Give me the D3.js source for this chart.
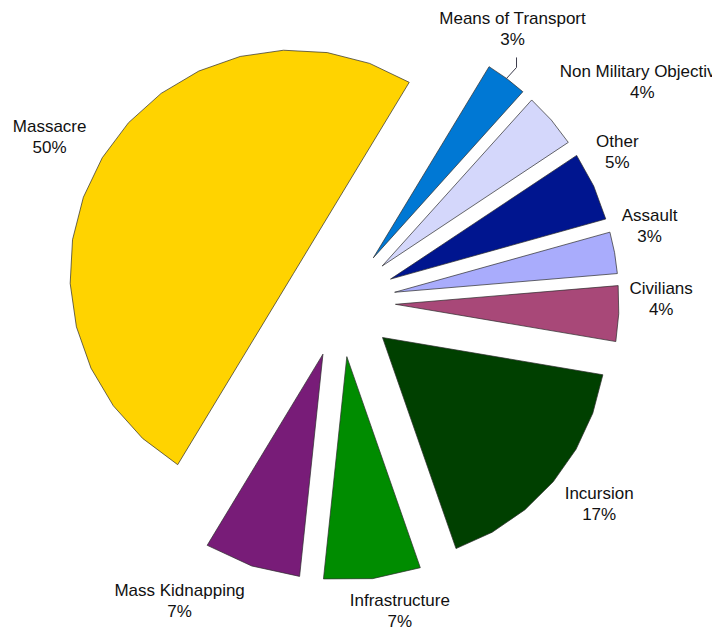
<!DOCTYPE html>
<html>
<head>
<meta charset="utf-8">
<script src="https://cdn.jsdelivr.net/npm/d3@7"></script>
<style>
  body { margin: 0; background: #fff; }
  svg { display: block; font-family: "Liberation Sans", Arial, sans-serif; }
</style>
</head>
<body>
<div id="chart"></div>
<script>
// chart data, clockwise from the top edge of the Massacre slice
const categories = ["Means of Transport", "Non Military Objective", "Other", "Assault",
  "Civilians", "Incursion", "Infrastructure", "Mass Kidnapping", "Massacre"];
const percents = [3, 4, 5, 3, 4, 17, 7, 7, 50];
const sliceColors = ["#0078d4", "#d4d7fb", "#00158f", "#a9acfc", "#a84878",
  "#004000", "#008c00", "#781c78", "#ffd300"];

// SVG size and layout
const svgWidth = 712;
const svgHeight = 628;
const center = { x: 340.5, y: 302 };
const radius = 223.5;
const explode = 55;          // every slice pulled out by the same distance
const startDeg = 31.2;       // where the first slice begins (clockwise from 12 o'clock)
const fontSize = 17;
const lineHeight = 21;
const labelGap = 289;        // distance of the label box edge from the pie centre
const labelBias = -2.5;      // degrees

// labels that were dragged away from their default place
const labelNudge = {
  "Means of Transport": [-23, 21],
  "Non Military Objective": [37, 35],
  "Other": [-6, 0],
  "Assault": [-4, 0],
  "Civilians": [0, 3],
  "Incursion": [-2, 6],
  "Infrastructure": [9, 0],
  "Mass Kidnapping": [-70, -10]
};
const leaderLabels = ["Means of Transport"];

const rad = Math.PI / 180;
const polar = (a, r) => [Math.sin(a) * r, -Math.cos(a) * r];

var svg = d3.select("#chart")
  .append("svg")
  .attr("width", svgWidth)
  .attr("height", svgHeight);

svg.append("rect")
  .attr("width", svgWidth)
  .attr("height", svgHeight)
  .attr("fill", "#fff");

var data = categories.map((c, i) => ({ name: c, value: percents[i], color: sliceColors[i] }));

var pie = d3.pie()
  .sort(null)
  .value(d => d.value)
  .startAngle(startDeg * rad)
  .endAngle(startDeg * rad + 2 * Math.PI);

var arcs = pie(data);

// the slices are drawn as flat polygons, like the original
var line = d3.line();

function slicePoints(d) {
  var span = d.endAngle - d.startAngle;
  var n = Math.max(2, Math.round(span / rad / 11));
  var pts = [[0, 0]];
  for (var k = 0; k <= n; k++) {
    pts.push(polar(d.startAngle + span * k / n, radius));
  }
  return pts;
}

var chartGroup = svg.append("g")
  .attr("transform", `translate(${center.x}, ${center.y})`);

chartGroup.selectAll("path.slice")
  .data(arcs)
  .enter()
  .append("path")
  .attr("class", "slice")
  .attr("transform", d => {
    var off = polar((d.startAngle + d.endAngle) / 2, explode);
    return `translate(${off[0]}, ${off[1]})`;
  })
  .attr("d", d => line(slicePoints(d)) + "Z")
  .attr("fill", d => d.data.color)
  .attr("stroke", "#2b2b2b")
  .attr("stroke-width", 0.7)
  .attr("stroke-linejoin", "round");

// data labels
var labels = chartGroup.selectAll("text.label")
  .data(arcs)
  .enter()
  .append("text")
  .attr("class", "label")
  .attr("text-anchor", "middle")
  .attr("font-size", fontSize)
  .attr("fill", "#111");

labels.append("tspan").attr("class", "l1").text(d => d.data.name);
labels.append("tspan").attr("class", "l2").text(d => d.data.value + "%");

labels.each(function(d) {
  var t = d3.select(this);
  var w = Math.max(t.select(".l1").node().getComputedTextLength(),
    t.select(".l2").node().getComputedTextLength());
  var h = 2 * 21.5;
  var a = (d.startAngle + d.endAngle) / 2 + labelBias * rad;
  var u = polar(a, 1);
  var dist = labelGap + w / 2 * Math.abs(u[0]) + h / 2 * Math.abs(u[1]);
  var nudge = labelNudge[d.data.name] || [0, 0];
  var x = u[0] * dist + nudge[0];
  var y = u[1] * dist + nudge[1];
  d.labelX = x;
  d.labelY = y;
  t.select(".l1").attr("x", x).attr("y", y - lineHeight / 2);
  t.select(".l2").attr("x", x).attr("y", y + lineHeight / 2);
});

// leader line for the moved label
arcs.filter(d => leaderLabels.includes(d.data.name)).forEach(d => {
  var mid = (d.startAngle + d.endAngle) / 2;
  var off = polar(mid, explode);
  var edge = polar(mid, radius * Math.cos((d.endAngle - d.startAngle) / 4));
  var lx = d.labelX + 4;
  var ly = d.labelY + lineHeight / 2 + 12;
  chartGroup.append("path")
    .attr("d", line([[lx, ly], [lx, ly + 10], [off[0] + edge[0], off[1] + edge[1]]]))
    .attr("fill", "none")
    .attr("stroke", "#3c3c4c")
    .attr("stroke-width", 1);
});
</script>
</body>
</html>
